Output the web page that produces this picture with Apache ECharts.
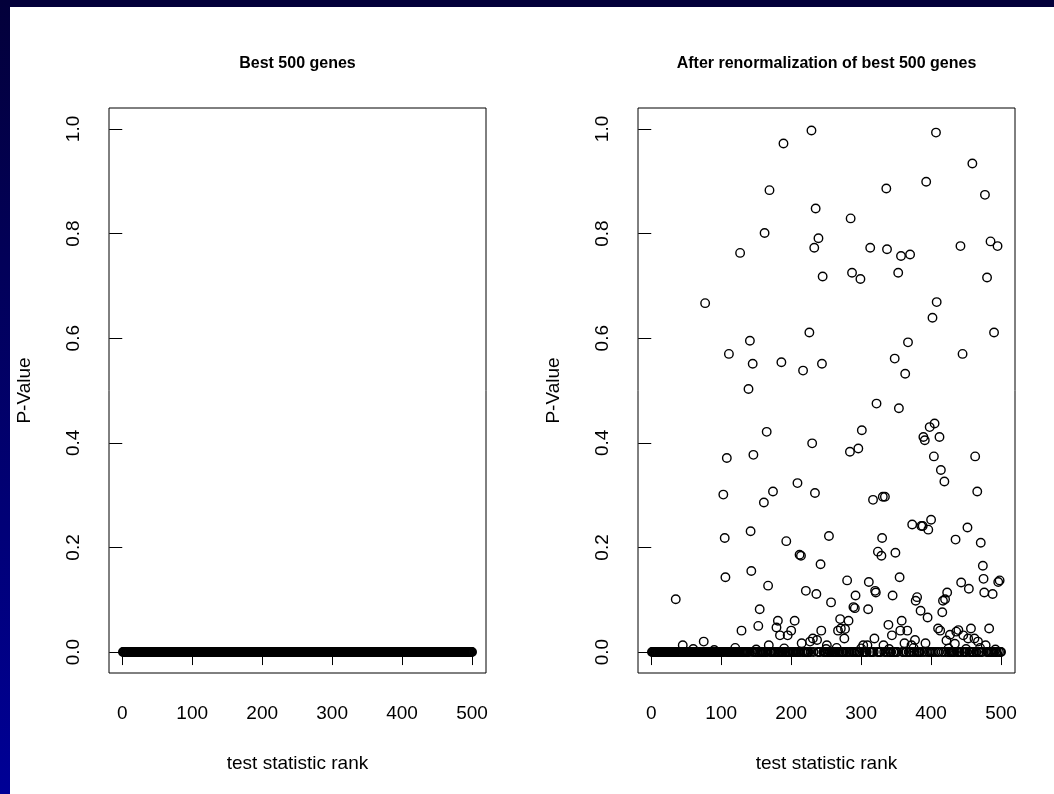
<!DOCTYPE html>
<html>
<head>
<meta charset="utf-8">
<title>P-values of the best 500 genes</title>
<script src="https://cdn.jsdelivr.net/npm/echarts@6/dist/echarts.min.js"></script>
<style>
  html, body { margin: 0; padding: 0; background: #ffffff; }
  #chart { width: 1054px; height: 794px; }
</style>
</head>
<body>
<div id="chart"></div>
<script>
// P-values of the 500 top-ranked genes, in rank order (rank 1 first).
const bestP = [
  0,0,0,0,0,0,0,0,0,0,0,0,0,0,0,0,0,0,0,0,0,0,0,0,0,
  0,0,0,0,0,0,0,0,0,0,0,0,0,0,0,0,0,0,0,0,0,0,0,0,0,
  0,0,0,0,0,0,0,0,0,0,0,0,0,0,0,0,0,0,0,0,0,0,0,0,0,
  0,0,0,0,0,0,0,0,0,0,0,0,0,0,0,0,0,0,0,0,0,0,0,0,0,
  0,0,0,0,0,0,0,0,0,0,0,0,0,0,0,0,0,0,0,0,0,0,0,0,0,
  0,0,0,0,0,0,0,0,0,0,0,0,0,0,0,0,0,0,0,0,0,0,0,0,0,
  0,0,0,0,0,0,0,0,0,0,0,0,0,0,0,0,0,0,0,0,0,0,0,0,0,
  0,0,0,0,0,0,0,0,0,0,0,0,0,0,0,0,0,0,0,0,0,0,0,0,0,
  0,0,0,0,0,0,0,0,0,0,0,0,0,0,0,0,0,0,0,0,0,0,0,0,0,
  0,0,0,0,0,0,0,0,0,0,0,0,0,0,0,0,0,0,0,0,0,0,0,0,0,
  0,0,0,0,0,0,0,0,0,0,0,0,0,0,0,0,0,0,0,0,0,0,0,0,0,
  0,0,0,0,0,0,0,0,0,0,0,0,0,0,0,0,0,0,0,0,0,0,0,0,0,
  0,0,0,0,0,0,0,0,0,0,0,0,0,0,0,0,0,0,0,0,0,0,0,0,0,
  0,0,0,0,0,0,0,0,0,0,0,0,0,0,0,0,0,0,0,0,0,0,0,0,0,
  0,0,0,0,0,0,0,0,0,0,0,0,0,0,0,0,0,0,0,0,0,0,0,0,0,
  0,0,0,0,0,0,0,0,0,0,0,0,0,0,0,0,0,0,0,0,0,0,0,0,0,
  0,0,0,0,0,0,0,0,0,0,0,0,0,0,0,0,0,0,0,0,0,0,0,0,0,
  0,0,0,0,0,0,0,0,0,0,0,0,0,0,0,0,0,0,0,0,0,0,0,0,0,
  0,0,0,0,0,0,0,0,0,0,0,0,0,0,0,0,0,0,0,0,0,0,0,0,0,
  0,0,0,0,0,0,0,0,0,0,0,0,0,0,0,0,0,0,0,0,0,0,0,0,0
];

// P-values of the same 500 genes after renormalization, in rank order.
const renormP = [
  /*   1 */ 0,0,0,0,0,0,0,0,0,0,0,0,0,0,0,0,0,0,0,0,0,0,0,0,0,
  /*  26 */ 0,0,0,0,0,0,0,0,0,0.101,0,0,0,0,0,0,0,0,0,0.013,0,0,0,0,0,
  /*  51 */ 0,0,0,0,0,0,0,0,0,0.006,0,0,0,0,0,0,0,0,0,0,0,0,0,0,0.020,
  /*  76 */ 0,0.667,0,0,0,0,0,0,0,0,0,0,0,0,0.004,0,0,0,0,0,0,0,0,0,0,
  /* 101 */ 0,0,0.301,0,0.218,0.143,0,0.371,0,0,0.570,0,0,0,0,0,0,0,0,0.008,0,0,0,0,0,
  /* 126 */ 0,0.763,0,0.041,0,0,0,0,0,0,0,0,0,0.503,0,0.595,0.231,0.155,0,0.551,0.377,0,0,0,0.005,
  /* 151 */ 0,0,0.050,0,0.082,0,0,0,0,0,0.286,0.801,0,0,0.421,0,0.127,0.013,0.883,0,0,0,0,0.307,0,
  /* 176 */ 0,0,0,0.047,0,0.060,0,0,0.032,0,0.554,0,0,0.972,0.007,0,0,0.212,0,0.032,0,0,0,0,0.041,
  /* 201 */ 0,0,0,0,0.060,0,0,0,0.323,0,0,0.186,0,0.184,0.017,0,0.538,0,0,0,0.117,0,0,0,0,
  /* 226 */ 0.611,0.020,0,0.997,0.399,0.026,0,0.773,0.304,0.848,0.111,0.023,0,0.791,0,0,0.168,0.041,0.551,0.718,0,0,0,0,0.006,
  /* 251 */ 0.013,0,0,0.222,0,0,0.095,0,0,0,0,0,0,0,0.008,0,0.041,0,0,0.063,0.045,0,0,0,0,
  /* 276 */ 0.026,0.044,0,0,0.137,0,0.060,0,0.383,0.829,0,0.725,0,0.086,0,0.084,0.108,0,0,0,0.389,0,0,0.713,0.007,
  /* 301 */ 0.424,0,0.013,0,0,0,0,0,0.013,0.082,0.134,0,0.773,0,0,0,0.291,0,0.026,0.117,0.114,0.475,0,0.192,0,
  /* 326 */ 0,0,0,0.184,0.218,0.297,0.013,0,0.297,0,0.886,0.770,0,0.052,0.006,0,0,0,0.032,0.108,0,0,0.561,0.190,0,
  /* 351 */ 0,0,0.725,0.466,0.143,0.041,0.757,0.060,0,0,0,0.017,0.532,0,0,0.041,0.592,0,0,0.760,0,0.013,0.244,0,0.008,
  /* 376 */ 0,0.023,0.098,0,0.105,0,0,0,0,0.079,0.241,0,0.241,0.411,0,0.405,0.017,0.899,0,0.066,0.234,0,0.430,0,0.253,
  /* 401 */ 0,0.639,0,0.374,0.437,0,0.993,0.669,0,0.045,0,0.411,0.041,0.348,0,0.076,0.098,0,0.326,0.101,0,0.022,0.114,0,0.007,
  /* 426 */ 0,0.033,0,0,0,0,0,0,0.016,0.215,0.039,0,0,0.042,0,0,0.776,0.133,0,0.570,0.032,0,0,0,0.006,
  /* 451 */ 0,0.238,0.026,0.121,0,0,0.045,0,0.934,0,0,0.026,0.374,0,0,0.307,0.020,0,0,0.008,0.209,0,0,0.165,0.140,
  /* 476 */ 0.114,0.874,0.013,0,0.716,0,0,0.045,0,0.785,0,0,0.111,0,0.611,0,0.005,0,0,0.776,0.134,0,0.137,0,0
];

const panelTitles = ['Best 500 genes', 'After renormalization of best 500 genes'];
const xTicks = [0, 100, 200, 300, 400, 500];
const yTicks = [0, 0.2, 0.4, 0.6, 0.8, 1.0];
const xTitle = 'test statistic rank';
const yTitle = 'P-Value';

// Axis limits: the data range padded by 4% on each side.
const xRange = [-18.96, 519.96];
const yRange = [-0.04, 1.04];

const FONT = '"Liberation Sans", Arial, Helvetica, sans-serif';

function toPoints(values) {
  return values.map((p, i) => [i + 1, p]);
}

const panels = [
  { left: 109, values: bestP },
  { left: 638, values: renormP }
];

const grids = panels.map(pn => ({
  left: pn.left, top: 108, width: 377, height: 565,
  show: true, backgroundColor: 'transparent',
  borderColor: '#000', borderWidth: 1,
  containLabel: false, outerBoundsMode: 'none'
}));

const xAxes = panels.map((pn, i) => ({
  gridIndex: i, type: 'value', min: xRange[0], max: xRange[1],
  axisLine: { show: false },
  splitLine: { show: false },
  axisTick: { show: true, length: 13, customValues: xTicks, lineStyle: { color: '#000', width: 1 } },
  axisLabel: { show: true, customValues: xTicks, margin: 31, color: '#000', fontSize: 19, fontFamily: FONT },
  name: xTitle, nameLocation: 'middle', nameGap: 81,
  nameTextStyle: { color: '#000', fontSize: 19, fontFamily: FONT }
}));

const yAxes = panels.map((pn, i) => ({
  gridIndex: i, type: 'value', min: yRange[0], max: yRange[1],
  axisLine: { show: false },
  splitLine: { show: false },
  axisTick: { show: true, length: 13, customValues: yTicks, lineStyle: { color: '#000', width: 1 } },
  axisLabel: {
    show: true, customValues: yTicks, rotate: 90, margin: 26,
    color: '#000', fontSize: 19, fontFamily: FONT,
    formatter: v => Number(v).toFixed(1)
  },
  name: yTitle, nameLocation: 'middle', nameGap: 75,
  nameTextStyle: { color: '#000', fontSize: 19, fontFamily: FONT }
}));

const series = panels.map((pn, i) => ({
  type: 'scatter', xAxisIndex: i, yAxisIndex: i,
  data: toPoints(pn.values),
  symbol: 'circle', symbolSize: 8.5,
  itemStyle: { color: 'rgba(0,0,0,0)', borderColor: '#000', borderWidth: 1.4, opacity: 1 },
  emphasis: { disabled: true },
  silent: true, clip: false, animation: false
}));

const titles = panels.map((pn, i) => ({
  text: panelTitles[i], left: pn.left + 377 / 2, top: 56, textAlign: 'center', padding: 0,
  textStyle: { color: '#000', fontSize: 16, fontWeight: 'bold', fontFamily: FONT }
}));

const chart = echarts.init(document.getElementById('chart'), null, { renderer: 'canvas', width: 1054, height: 794 });
chart.setOption({
  backgroundColor: '#ffffff',
  animation: false,
  title: titles,
  grid: grids,
  xAxis: xAxes,
  yAxis: yAxes,
  series: series,
  graphic: [
    { type: 'rect', shape: { x: 0, y: 0, width: 1054, height: 7 }, style: { fill: '#03003a' }, silent: true, z: 100 },
    {
      type: 'rect', shape: { x: 0, y: 0, width: 10, height: 794 }, silent: true, z: 100,
      style: {
        fill: new echarts.graphic.LinearGradient(0, 0, 0, 1, [
          { offset: 0, color: '#03003a' },
          { offset: 1, color: '#000096' }
        ])
      }
    }
  ]
});
</script>
</body>
</html>
